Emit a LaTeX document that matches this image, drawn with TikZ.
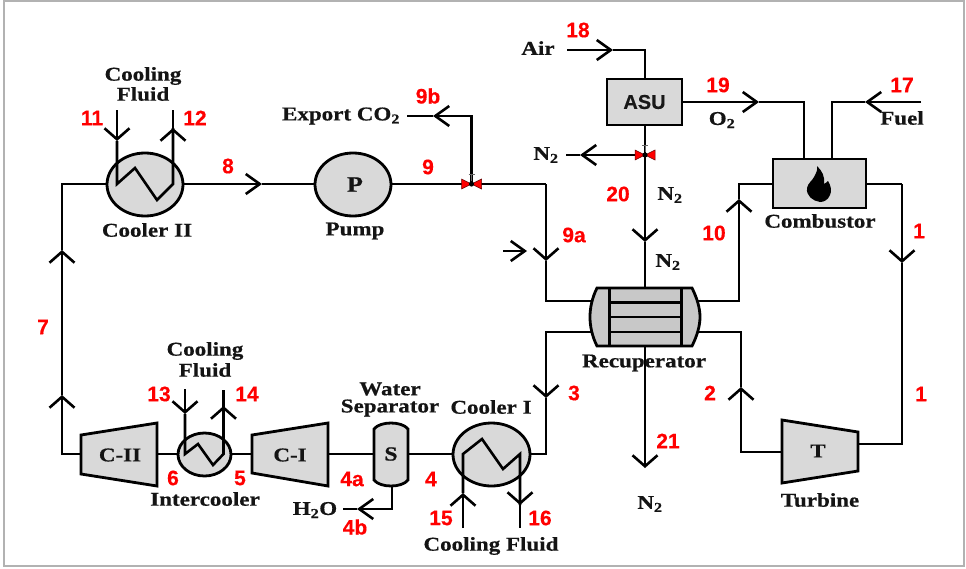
\documentclass[tikz,border=0pt]{standalone}
\usepackage{fontspec}
\setmainfont[FakeStretch=1.18,BoldFeatures={FakeStretch=1.18,FakeBold=0.6}]{Liberation Serif}
\newfontfamily\redfont[BoldFeatures={FakeBold=0.4}]{Liberation Sans}
\usetikzlibrary{arrows.meta,shapes.geometric}
\definecolor{eqfill}{RGB}{217,217,217}
\definecolor{recfill}{RGB}{200,200,200}
\definecolor{framegray}{RGB}{178,178,178}
\tikzset{
  x=1pt,y=-1pt,
  pipe/.style={line width=2.6pt,line join=miter},
  flow/.style={pipe,-{Straight Barb[length=14pt,width=20pt,line width=2.6pt]}},
  vflow/.style={pipe,-{Straight Barb[length=11pt,width=25pt,line width=2.6pt]}},
  equip/.style={draw=black,line width=2.8pt,fill=eqfill},
  round eq/.style={equip,ellipse,inner sep=0pt,outer sep=0pt},
  redlab/.style={text=red,font=\redfont\bfseries\fontsize{21}{21}\selectfont,inner sep=0pt},
  lab/.style={font=\bfseries\fontsize{19.5}{20}\selectfont,inner sep=0pt,align=center,text=black!92},
  valvered/.style={fill=red,draw=black!60!red,line width=.5pt},
  coilline/.style={line width=2.6pt,line join=miter}
}
\newcommand{\Ntwo}{N\textsubscript{2}}
\begin{document}
\begin{tikzpicture}
\useasboundingbox (0,0) rectangle (966,568);
\fill[white] (0,0) rectangle (966,568);
\draw[framegray,line width=2.5pt] (4,1.2) -- (4,566) -- (964,566) -- (964,1.2) -- cycle;

% junctions
\coordinate (airS) at (567,50); \coordinate (airM) at (613,50); \coordinate (airB) at (645,50);
\coordinate (o2B) at (804,102); \coordinate (o2M) at (759,102);
\coordinate (fuS) at (921,102); \coordinate (fuM) at (865,102); \coordinate (fuB) at (832,102);
\coordinate (n2v) at (645,155); \coordinate (n2E) at (566,155); \coordinate (n2M) at (580,155);
\coordinate (n2t) at (645,242);
\coordinate (v9) at (471.5,184); \coordinate (b9a) at (546,184); \coordinate (m9a) at (546,261);
\coordinate (c9b) at (471.5,116); \coordinate (m9b) at (433,116); \coordinate (e9b) at (407,116);
\coordinate (sS) at (503,251); \coordinate (sE) at (527,251);
\coordinate (lTL) at (62,184); \coordinate (lBL) at (62,454);
\coordinate (m7a) at (62,395); \coordinate (m7b) at (62,250); \coordinate (m8) at (262,184);
\coordinate (r1T) at (902,184); \coordinate (m1) at (902,263); \coordinate (r1B) at (902,444);
\coordinate (c10) at (739,184); \coordinate (m10) at (739,199); \coordinate (b10) at (739,301);
\coordinate (c2) at (741,332); \coordinate (m2) at (741,387); \coordinate (b2) at (741,452);
\coordinate (c3) at (546,332); \coordinate (m3) at (546,398); \coordinate (b3) at (546,454);
\coordinate (c9a) at (546,301);
\coordinate (e21) at (645,468);
\coordinate (hB) at (392,509); \coordinate (hM) at (357,509); \coordinate (hE) at (343,509);

% pipes under equipment
\draw[flow] (airS) -- (airM); \draw[pipe] (airM) -- (airB) -- (645,80);
\draw[flow] (682,102) -- (o2M); \draw[pipe] (o2M) -- (o2B) -- (804,160);
\draw[flow] (fuS) -- (fuM); \draw[pipe] (fuM) -- (fuB) -- (832,160);
\draw[vflow] (645,125) -- (n2t); \draw[pipe] (n2t) -- (645,289);
\draw[flow] (n2v) -- (n2M); \draw[pipe] (n2M) -- (n2E);
\draw[pipe] (391,184) -- (b9a); \draw[vflow] (b9a) -- (m9a); \draw[pipe] (m9a) -- (c9a) -- (595,301);
\draw[flow] (v9) -- (c9b) -- (m9b); \draw[pipe] (m9b) -- (e9b);
\draw[flow] (sS) -- (sE);
\draw[flow] (183,184) -- (m8); \draw[pipe] (m8) -- (315,184);
\draw[vflow] (81,454) -- (lBL) -- (m7a); \draw[vflow] (m7a) -- (m7b); \draw[pipe] (m7b) -- (lTL) -- (107,184);
\draw[pipe] (866,184) -- (r1T); \draw[vflow] (r1T) -- (m1); \draw[pipe] (m1) -- (r1B) -- (858,444);
\draw[vflow] (695,301) -- (b10) -- (m10); \draw[pipe] (m10) -- (c10) -- (773,184);
\draw[vflow] (782,452) -- (b2) -- (m2); \draw[pipe] (m2) -- (c2) -- (695,332);
\draw[vflow] (595,332) -- (c3) -- (m3); \draw[pipe] (m3) -- (b3) -- (530,454);
\draw[vflow] (645,346) -- (e21);
\draw[pipe] (157,454) -- (178,454);
\draw[pipe] (231,454) -- (252,454);
\draw[pipe] (328,454) -- (374,454);
\draw[pipe] (408,454) -- (453,454);
\draw[flow] (392,486) -- (hB) -- (hM); \draw[pipe] (hM) -- (hE);

% equipment
\node[equip,minimum width=75pt,minimum height=46pt,inner sep=0pt,font=\redfont\bfseries\fontsize{20}{20}\selectfont,text=black!90] (asu) at (644.5,102) {ASU};
\node[equip,minimum width=93pt,minimum height=49pt,inner sep=0pt] (comb) at (819.5,183.5) {};
\fill[black] (817,166) .. controls (822,171) and (825,176) .. (824,184)
  .. controls (826,183) and (827,182) .. (828,181)
  .. controls (831,186) and (832,191) .. (830,195)
  .. controls (828,200) and (824,202) .. (820,202)
  .. controls (813,201) and (806,196) .. (807,188)
  .. controls (808,183) and (812,181) .. (814,177)
  .. controls (816,173) and (818,170) .. (817,166) -- cycle;

% round equipment
\node[round eq,minimum width=76pt,minimum height=63pt] (cool2) at (145,184.5) {};
\node[round eq,minimum width=76pt,minimum height=63pt] (pump) at (353,184.5) {};
\node[round eq,minimum width=53pt,minimum height=43pt] (inter) at (204.5,454.5) {};
\node[round eq,minimum width=77pt,minimum height=63pt] (cool1) at (491.5,454.5) {};

% coils Cooler II
\draw[vflow] (117,110) -- (117,141);
\draw[coilline] (117,141) -- (117,184) -- (135,168) -- (157,200) -- (173,184) -- (173,128);
\draw[vflow] (173,140) -- (173,128); \draw[pipe] (173,128) -- (173,110);
% coils Intercooler
\draw[vflow] (185,389) -- (185,414);
\draw[coilline] (185,414) -- (185,454) -- (198,444) -- (213,465) -- (223.5,454) -- (223.5,406);
\draw[vflow] (223.5,420) -- (223.5,406); \draw[pipe] (223.5,406) -- (223.5,390);
% coils Cooler I
\draw[vflow] (463,528) -- (463,493);
\draw[coilline] (463,493) -- (463,454) -- (482,439) -- (503,469) -- (520,454) -- (520,505);
\draw[vflow] (520,490) -- (520,505); \draw[pipe] (520,505) -- (520,528);

% compressors and turbine
\filldraw[equip] (81,435) -- (157,423) -- (157,486) -- (81,474) -- cycle;
\filldraw[equip] (252,435) -- (328,423) -- (328,486) -- (252,473) -- cycle;
\filldraw[equip] (782,420) -- (858,432) -- (858,471) -- (782,483) -- cycle;

% separator
\filldraw[equip] (374,429) .. controls (380,421) and (402,421) .. (408,429) -- (408,480) .. controls (402,488) and (380,488) .. (374,480) -- cycle;

% recuperator
\filldraw[draw=black,line width=2.8pt,fill=recfill] (597,288) -- (692,288) .. controls (697,298) and (700,308) .. (700,317) .. controls (700,326) and (697,336) .. (692,346) -- (597,346) .. controls (592,336) and (590,326) .. (590,317) .. controls (590,308) and (592,298) .. (597,288) -- cycle;
\draw[line width=3pt] (609,288) -- (609,346) (681,288) -- (681,346);
\draw[line width=2.4pt] (609,302.5) -- (681,302.5) (609,317) -- (681,317) (609,332) -- (681,332);

% valves
\foreach \vx/\vy in {645/155,471.5/184}{
  \draw[line width=.8pt,black!60] (\vx,\vy-3) -- (\vx,\vy-10) (\vx-3,\vy-10) -- (\vx+3,\vy-10);
  \filldraw[valvered] (\vx-10,\vy-5) -- (\vx+10,\vy+5) -- (\vx+10,\vy-5) -- (\vx-10,\vy+5) -- cycle;
  \fill[black] (\vx,\vy) circle (2.6);
}

% text
\node[lab] (tP) at (355,184.5) {\fontsize{22}{22}\selectfont P};
\node[lab] (tS) at (391,454) {\fontsize{20}{20}\selectfont S};
\node[lab] (tT) at (818,451) {T};
\node[lab] (tC1) at (290,455) {C-I};
\node[lab] (tC2) at (120,455) {C-II};
\node[lab] (l1a) at (143,76) {Cooling};
\node[lab] (l1b) at (143,94) {Fluid};
\node[lab] (l2a) at (205,351) {Cooling};
\node[lab] (l2b) at (205,370) {Fluid};
\node[lab] (l3) at (491,546) {Cooling Fluid};
\node[lab] (l4) at (538,48) {Air};
\node[lab] (l5) at (341,116) {Export CO\textsubscript{2}};
\node[lab] (l6) at (546,155) {\Ntwo};
\node[lab] (l7) at (670,195) {\Ntwo};
\node[lab] (l8) at (668,262) {\Ntwo};
\node[lab] (l9) at (722,120) {O\textsubscript{2}};
\node[lab] (l10) at (902,118) {Fuel};
\node[lab] (l11) at (820,221) {Combustor};
\node[lab] (l12) at (644,363) {Recuperator};
\node[lab] (l13) at (147,230) {Cooler II};
\node[lab] (l14) at (355,231) {Pump};
\node[lab] (l15a) at (390,389) {Water};
\node[lab] (l15b) at (390,408) {Separator};
\node[lab] (l16) at (491,407) {Cooler I};
\node[lab] (l17) at (205,499) {Intercooler};
\node[lab] (l18) at (315,510) {H\textsubscript{2}O};
\node[lab] (l19) at (650,504) {\Ntwo};
\node[lab] (l20) at (820,500) {Turbine};

\foreach \t/\x/\y/\n in {18/578/30/a,19/718/85/b,17/902/85/c,11/92/118/d,12/195/118/e,8/228/166/f,9/428/167/g,9b/428/96/h,20/618/194/i,9a/574/235/j,10/714/233/k,1/919/231/l,1/921/394/m,2/710/393/n,3/574/393/o,21/668/441/p,7/43/327/q,13/159/394/r,14/247/394/s,6/173/478/t,5/240/478/u,4a/352/479/v,4/431/479/w,4b/355/527/x,15/441/518/y,16/540/518/z}{
  \node[redlab] (r\n) at (\x,\y) {\t};
}
\end{tikzpicture}
\end{document}
